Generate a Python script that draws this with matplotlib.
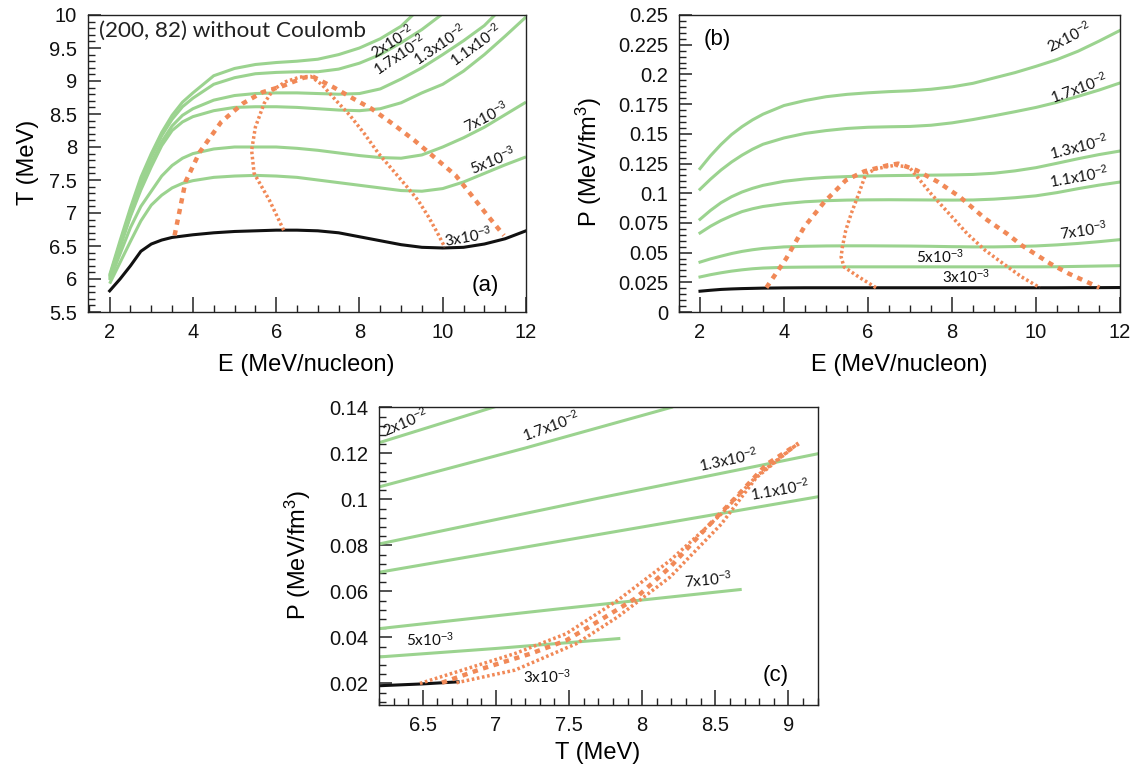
import matplotlib
matplotlib.use("Agg")
import matplotlib.pyplot as plt
from matplotlib.ticker import FixedLocator, MultipleLocator, FuncFormatter

plt.rcParams['font.family'] = ['Liberation Sans', 'DejaVu Sans']
plt.rcParams['mathtext.fontset'] = 'custom'
plt.rcParams['mathtext.rm'] = 'Liberation Sans'
plt.rcParams['mathtext.it'] = 'Liberation Sans:italic'
plt.rcParams['mathtext.bf'] = 'Liberation Sans:bold'

GREEN = '#9bd38f'
ORANGE = '#f18957'
BLACK = '#111111'
LABEL_FONT = ['Lato', 'DejaVu Sans']

# ---------------- isochore labels (density in fm^-3) ----------------
LBL_2E2 = '2x10$^{-2}$'
LBL_17E3 = '1.7x10$^{-2}$'
LBL_13E3 = '1.3x10$^{-2}$'
LBL_11E3 = '1.1x10$^{-2}$'
LBL_7E3 = '7x10$^{-3}$'
LBL_5E3 = '5x10$^{-3}$'
LBL_3E3 = '3x10$^{-3}$'

# ---------------- panel (a): T vs E ----------------
E_A = [2.0, 2.25, 2.5, 2.75, 3.0, 3.25, 3.5, 3.75, 4.0, 4.5, 5.0, 5.5, 6.0, 6.5,
       7.0, 7.5, 8.0, 8.5, 9.0, 9.5, 10.0, 10.5, 11.0, 11.5, 12.0]
T_A_3E3 = [5.82, 6.00, 6.20, 6.42, 6.53, 6.59, 6.63, 6.65, 6.67, 6.70, 6.72, 6.73,
           6.74, 6.74, 6.73, 6.70, 6.64, 6.58, 6.52, 6.48, 6.47, 6.48, 6.53, 6.61, 6.73]
T_A_5E3 = [5.93, 6.25, 6.57, 6.88, 7.12, 7.27, 7.38, 7.45, 7.49, 7.54, 7.56, 7.57,
           7.56, 7.54, 7.50, 7.46, 7.42, 7.38, 7.34, 7.33, 7.37, 7.47, 7.60, 7.73, 7.85]
T_A_7E3 = [5.98, 6.38, 6.78, 7.10, 7.33, 7.56, 7.72, 7.83, 7.90, 7.97, 8.00, 8.00,
           8.00, 7.98, 7.95, 7.91, 7.87, 7.84, 7.83, 7.88, 8.00, 8.14, 8.30, 8.49, 8.68]
T_A_11E3 = [6.00, 6.48, 6.95, 7.35, 7.70, 8.02, 8.25, 8.38, 8.46, 8.55, 8.60, 8.61,
            8.61, 8.60, 8.58, 8.56, 8.55, 8.58, 8.67, 8.82, 8.95, 9.15, 9.40, 9.68, 9.97]
E_A_13E3 = [2.0, 2.25, 2.5, 2.75, 3.0, 3.25, 3.5, 3.75, 4.0, 4.5, 5.0, 5.5, 6.0, 6.5,
            7.0, 7.5, 8.0, 8.5, 9.0, 9.5, 10.0, 10.5, 11.0, 11.25]
T_A_13E3 = [6.02, 6.50, 6.97, 7.40, 7.76, 8.08, 8.32, 8.48, 8.58, 8.71, 8.78, 8.81,
            8.82, 8.82, 8.81, 8.80, 8.81, 8.88, 9.03, 9.20, 9.40, 9.61, 9.84, 10.0]
E_A_17E3 = [2.0, 2.25, 2.5, 2.75, 3.0, 3.25, 3.5, 3.75, 4.0, 4.5, 5.0, 5.5, 6.0, 6.5,
            7.0, 7.5, 8.0, 8.5, 9.0, 9.5, 9.96]
T_A_17E3 = [6.04, 6.54, 7.04, 7.48, 7.85, 8.17, 8.42, 8.61, 8.74, 8.95, 9.05, 9.11,
            9.13, 9.14, 9.14, 9.18, 9.27, 9.40, 9.58, 9.78, 10.0]
E_A_2E2 = [2.0, 2.25, 2.5, 2.75, 3.0, 3.25, 3.5, 3.75, 4.0, 4.5, 5.0, 5.5, 6.0, 6.5,
           7.0, 7.5, 8.0, 8.5, 9.0, 9.28]
T_A_2E2 = [6.06, 6.58, 7.08, 7.54, 7.90, 8.22, 8.48, 8.68, 8.82, 9.08, 9.19, 9.25,
           9.28, 9.30, 9.33, 9.40, 9.50, 9.64, 9.83, 10.0]

# coexistence (dashed) and spinodal (dotted) boundaries in the E-T plane
E_A_COEX = [3.56, 3.82, 4.16, 4.68, 5.20, 5.67, 6.14, 6.66, 6.87, 7.39, 7.86, 8.29,
            8.80, 9.32, 9.75, 10.31, 10.69, 11.04, 11.47]
T_A_COEX = [6.66, 7.47, 7.92, 8.38, 8.66, 8.83, 8.92, 9.05, 9.07, 8.90, 8.73, 8.58,
            8.35, 8.10, 7.87, 7.57, 7.27, 6.99, 6.66]
E_A_SPIN = [6.18, 5.84, 5.47, 5.41, 5.50, 5.71, 5.93, 6.23, 6.57, 6.83, 7.09, 7.43,
            7.77, 8.12, 8.46, 8.80, 9.15, 9.41, 9.66, 9.88, 10.05]
T_A_SPIN = [6.74, 7.19, 7.60, 7.95, 8.30, 8.66, 8.87, 8.99, 9.06, 9.07, 8.95, 8.71,
            8.48, 8.20, 7.90, 7.65, 7.39, 7.19, 6.94, 6.69, 6.48]

# ---------------- panel (b): P vs E ----------------
E_B = [2.0, 2.25, 2.5, 2.75, 3.0, 3.25, 3.5, 4.0, 4.5, 5.0, 5.5, 6.0, 6.5, 7.0,
       7.5, 8.0, 8.5, 9.0, 9.5, 10.0, 10.5, 11.0, 11.5, 12.0]
P_B_3E3 = [0.0175, 0.0183, 0.0190, 0.0194, 0.0197, 0.0199, 0.0201, 0.0203, 0.0204,
           0.0204, 0.0204, 0.0204, 0.0204, 0.0204, 0.0204, 0.0204, 0.0204, 0.0204,
           0.0204, 0.0204, 0.0204, 0.0205, 0.0205, 0.0206]
P_B_5E3 = [0.0295, 0.0314, 0.0330, 0.0344, 0.0355, 0.0364, 0.0370, 0.0376, 0.0378,
           0.0379, 0.0380, 0.0380, 0.0380, 0.0380, 0.0380, 0.0380, 0.0380, 0.0380,
           0.0380, 0.0380, 0.0381, 0.0384, 0.0387, 0.0390]
P_B_7E3 = [0.0420, 0.0447, 0.0470, 0.0492, 0.0510, 0.0524, 0.0535, 0.0548, 0.0553,
           0.0556, 0.0557, 0.0557, 0.0556, 0.0555, 0.0553, 0.0550, 0.0548, 0.0548,
           0.0551, 0.0556, 0.0565, 0.0577, 0.0592, 0.0609]
P_B_11E3 = [0.0665, 0.0722, 0.0770, 0.0810, 0.0845, 0.0869, 0.0888, 0.0912, 0.0928,
            0.0937, 0.0942, 0.0944, 0.0945, 0.0944, 0.0943, 0.0942, 0.0943, 0.0950,
            0.0962, 0.0978, 0.1005, 0.1038, 0.1068, 0.1094]
P_B_13E3 = [0.0780, 0.0855, 0.0920, 0.0970, 0.1010, 0.1041, 0.1066, 0.1100, 0.1120,
            0.1133, 0.1140, 0.1145, 0.1148, 0.1150, 0.1152, 0.1154, 0.1158, 0.1168,
            0.1188, 0.1215, 0.1252, 0.1290, 0.1325, 0.1355]
P_B_17E3 = [0.1033, 0.1118, 0.1195, 0.1262, 0.1320, 0.1370, 0.1412, 0.1465, 0.1503,
            0.1527, 0.1545, 0.1555, 0.1559, 0.1562, 0.1572, 0.1592, 0.1620, 0.1652,
            0.1686, 0.1722, 0.1765, 0.1815, 0.1868, 0.1928]
P_B_2E2 = [0.1207, 0.1315, 0.1410, 0.1493, 0.1560, 0.1617, 0.1665, 0.1738, 0.1780,
           0.1812, 0.1832, 0.1845, 0.1855, 0.1862, 0.1875, 0.1895, 0.1925, 0.1970,
           0.2015, 0.2068, 0.2125, 0.2195, 0.2280, 0.2370]

E_B_COEX = [3.58, 4.05, 4.48, 4.96, 5.47, 5.91, 6.47, 6.72, 7.16, 7.67, 8.19, 8.79,
            9.31, 9.66, 10.34, 10.78, 11.51]
P_B_COEX = [0.0205, 0.0449, 0.0715, 0.0926, 0.1108, 0.1184, 0.1235, 0.1249, 0.1192,
            0.1094, 0.0968, 0.0786, 0.0659, 0.0561, 0.0407, 0.0323, 0.0205]
E_B_SPIN = [6.19, 5.78, 5.43, 5.36, 5.39, 5.47, 5.60, 5.78, 5.95, 6.21, 6.64, 6.98,
            7.24, 7.50, 7.93, 8.36, 8.79, 9.22, 9.66, 10.09]
P_B_SPIN = [0.0205, 0.0295, 0.0379, 0.0463, 0.0547, 0.0687, 0.0828, 0.0996, 0.1164,
            0.1207, 0.1235, 0.1220, 0.1108, 0.0996, 0.0828, 0.0660, 0.0519, 0.0407,
            0.0295, 0.0205]

# ---------------- panel (c): P vs T ----------------
T_C_2E2 = [6.2, 7.0]
P_C_2E2 = [0.1246, 0.1404]
T_C_17E3 = [6.2, 7.2, 8.2]
P_C_17E3 = [0.1054, 0.1223, 0.1400]
T_C_13E3 = [6.2, 7.7, 9.2]
P_C_13E3 = [0.0806, 0.1005, 0.1198]
T_C_11E3 = [6.2, 7.7, 9.2]
P_C_11E3 = [0.0683, 0.0847, 0.1011]
T_C_7E3 = [6.2, 7.4, 8.67]
P_C_7E3 = [0.0438, 0.0522, 0.0608]
T_C_5E3 = [6.2, 7.0, 7.84]
P_C_5E3 = [0.0315, 0.0352, 0.0395]
T_C_3E3 = [6.2, 6.5, 6.74]
P_C_3E3 = [0.0190, 0.0198, 0.0207]

T_C_COEX = [6.63, 6.91, 7.24, 7.48, 7.71, 7.95, 8.19, 8.42, 8.66, 8.85, 9.07]
P_C_COEX = [0.0203, 0.0265, 0.0330, 0.0387, 0.0474, 0.0568, 0.0705, 0.0863, 0.1022,
            0.1152, 0.1243]
T_C_SPIN_HI = [6.48, 6.77, 7.13, 7.48, 7.83, 8.19, 8.54, 8.78, 9.05]
P_C_SPIN_HI = [0.0200, 0.0258, 0.0330, 0.0416, 0.0560, 0.0734, 0.0936, 0.1100, 0.1235]
T_C_SPIN_LO = [6.73, 7.13, 7.55, 7.83, 8.19, 8.54, 8.78, 9.05]
P_C_SPIN_LO = [0.0203, 0.0258, 0.0373, 0.0488, 0.0662, 0.0892, 0.1094, 0.1235]

# ---------------- axes ticks ----------------
A_XTICKS = [2, 4, 6, 8, 10, 12]
A_YTICKS = [5.5, 6, 6.5, 7, 7.5, 8, 8.5, 9, 9.5, 10]
B_YTICKS = [0, 0.025, 0.05, 0.075, 0.1, 0.125, 0.15, 0.175, 0.2, 0.225, 0.25]
C_XTICKS = [6.5, 7, 7.5, 8, 8.5, 9]
C_YTICKS = [0.02, 0.04, 0.06, 0.08, 0.1, 0.12, 0.14]

W, H = 1132, 774
fig = plt.figure(figsize=(W / 100, H / 100), dpi=100)
ax_a = fig.add_axes([88 / W, (H - 312) / H, 438 / W, 297 / H])
ax_b = fig.add_axes([679 / W, (H - 312) / H, 441 / W, 297 / H])
ax_c = fig.add_axes([379 / W, (H - 705.3) / H, 438.7 / W, 298 / H])

fmt = FuncFormatter(lambda v, p: '%g' % round(v, 4))


def style(ax, xt, xminor, yt, yminor, xlim, ylim):
    ax.set_xlim(*xlim)
    ax.set_ylim(*ylim)
    ax.xaxis.set_major_locator(FixedLocator(xt))
    ax.yaxis.set_major_locator(FixedLocator(yt))
    ax.xaxis.set_minor_locator(MultipleLocator(xminor))
    ax.yaxis.set_minor_locator(MultipleLocator(yminor))
    ax.xaxis.set_major_formatter(fmt)
    ax.yaxis.set_major_formatter(fmt)
    ax.tick_params(which='both', direction='in', top=False, right=False,
                   colors='#222222', labelcolor='#111111', labelsize=14.5, pad=8)
    ax.tick_params(axis='x', which='major', length=11, width=1.1)
    ax.tick_params(axis='y', which='major', length=9.5, width=1.1)
    ax.tick_params(which='minor', length=5.2, width=1.0)
    for s in ax.spines.values():
        s.set_linewidth(1.0)
        s.set_color('#222222')


def lab(ax, x, y, s, rot=0, size=11):
    ax.text(x, y, s, rotation=rot, ha='center', va='center', fontsize=size,
            family=LABEL_FONT, color='#111111', rotation_mode='anchor')


LW = 2.2
COEX_KW = dict(color=ORANGE, lw=3.2, dashes=(1.2, 1.25), solid_capstyle='butt')
SPIN_KW = dict(color=ORANGE, lw=2.5, dashes=(0.75, 0.75))

# ---- (a)
ax = ax_a
for e, t in [(E_A, T_A_5E3), (E_A, T_A_7E3), (E_A, T_A_11E3),
             (E_A_13E3, T_A_13E3), (E_A_17E3, T_A_17E3), (E_A_2E2, T_A_2E2)]:
    ax.plot(e, t, color=GREEN, lw=LW, solid_capstyle='butt')
ax.plot(E_A, T_A_3E3, color=BLACK, lw=LW)
ax.plot(E_A_COEX, T_A_COEX, **COEX_KW)
ax.plot(E_A_SPIN, T_A_SPIN, **SPIN_KW)
style(ax, A_XTICKS, 0.5, A_YTICKS, 0.1, (1.48, 12), (5.5, 10))
ax.set_xlabel('E (MeV/nucleon)', fontsize=17, va='center')
ax.set_ylabel('T (MeV)', fontsize=17, va='center')
ax.xaxis.set_label_coords(0.498, -0.178)
ax.yaxis.set_label_coords(-0.137, 0.505)
ax.text(1.75, 9.76, '(200, 82) without Coulomb', fontsize=16.2, family=LABEL_FONT,
        va='center', ha='left', color='#222222')
ax.text(11.02, 5.90, '(a)', fontsize=16, ha='center', va='center')
lab(ax, 8.79, 9.60, LBL_2E2, 32)
lab(ax, 8.96, 9.40, LBL_17E3, 34)
lab(ax, 9.92, 9.55, LBL_13E3, 34)
lab(ax, 10.8, 9.55, LBL_11E3, 36)
lab(ax, 11.04, 8.46, LBL_7E3, 27)
lab(ax, 11.2, 7.80, LBL_5E3, 22)
lab(ax, 10.6, 6.64, LBL_3E3, 10)

# ---- (b)
ax = ax_b
for p in [P_B_5E3, P_B_7E3, P_B_11E3, P_B_13E3, P_B_17E3, P_B_2E2]:
    ax.plot(E_B, p, color=GREEN, lw=LW)
ax.plot(E_B, P_B_3E3, color=BLACK, lw=LW)
ax.plot(E_B_COEX, P_B_COEX, **COEX_KW)
ax.plot(E_B_SPIN, P_B_SPIN, **SPIN_KW)
style(ax, A_XTICKS, 0.5, B_YTICKS, 0.005, (1.5, 12), (0, 0.25))
ax.set_xlabel('E (MeV/nucleon)', fontsize=17, va='center')
ax.set_ylabel('P (MeV/fm$^3$)', fontsize=17, va='center')
ax.xaxis.set_label_coords(0.499, -0.178)
ax.yaxis.set_label_coords(-0.205, 0.505)
ax.text(2.41, 0.229, '(b)', fontsize=16, ha='center', va='center')
lab(ax, 10.78, 0.2315, LBL_2E2, 27)
lab(ax, 11.03, 0.189, LBL_17E3, 20)
lab(ax, 11.03, 0.139, LBL_13E3, 14)
lab(ax, 11.03, 0.1136, LBL_11E3, 10)
lab(ax, 11.12, 0.0687, LBL_7E3, 8)
lab(ax, 7.72, 0.0463, LBL_5E3, 0)
lab(ax, 8.32, 0.0295, LBL_3E3, 0)

# ---- (c)
ax = ax_c
for t, p in [(T_C_2E2, P_C_2E2), (T_C_17E3, P_C_17E3), (T_C_13E3, P_C_13E3),
             (T_C_11E3, P_C_11E3), (T_C_7E3, P_C_7E3), (T_C_5E3, P_C_5E3)]:
    ax.plot(t, p, color=GREEN, lw=LW)
ax.plot(T_C_3E3, P_C_3E3, color=BLACK, lw=LW)
ax.plot(T_C_SPIN_HI, P_C_SPIN_HI, **SPIN_KW)
ax.plot(T_C_SPIN_LO, P_C_SPIN_LO, **SPIN_KW)
ax.plot(T_C_COEX, P_C_COEX, **COEX_KW)
style(ax, C_XTICKS, 0.1, C_YTICKS, 0.004, (6.2, 9.2), (0.0105, 0.14))
ax.set_xlabel('T (MeV)', fontsize=17, va='center')
ax.set_ylabel('P (MeV/fm$^3$)', fontsize=17, va='center')
ax.xaxis.set_label_coords(0.498, -0.16)
ax.yaxis.set_label_coords(-0.185, 0.504)
ax.text(8.91, 0.0236, '(c)', fontsize=16, ha='center', va='center')
lab(ax, 6.38, 0.1335, LBL_2E2, 23)
lab(ax, 7.38, 0.1318, LBL_17E3, 20)
lab(ax, 8.59, 0.1174, LBL_13E3, 12)
lab(ax, 8.94, 0.1044, LBL_11E3, 10)
lab(ax, 8.45, 0.0650, LBL_7E3, 5)
lab(ax, 6.55, 0.0390, LBL_5E3, 0)
lab(ax, 7.35, 0.0229, LBL_3E3, 0)

fig.savefig('out.png', dpi=100)
